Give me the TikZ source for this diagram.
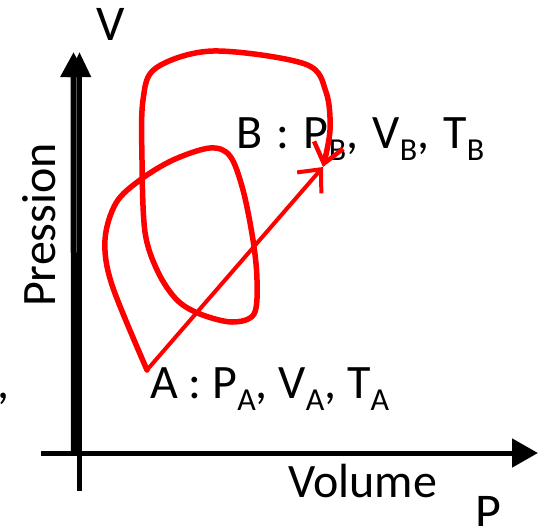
\documentclass[tikz,border=0pt]{standalone}
\usepackage{fontspec}
\setmainfont{Carlito}
\usetikzlibrary{arrows.meta}
\newcommand{\mysub}[1]{\raisebox{-0.27em}{\fontsize{32}{32}\selectfont #1}}
\newcommand{\wsp}{\hspace{0.3em}}
\begin{document}
\begin{tikzpicture}[x=1pt,y=-1pt,
  lbl/.style={inner sep=0pt,font=\fontsize{48}{52}\selectfont},
  axis/.style={black,line width=5pt,-{Triangle[length=26pt,width=28pt]}},
  redpath/.style={red,line width=5.5pt,line join=round,line cap=round},
  redarrow/.style={red,line width=4pt,-{Straight Barb[length=18pt,width=32pt,line width=4pt]}}]
\useasboundingbox (0,0) rectangle (551,525);
% axes
\coordinate (o1) at (41,453);
\coordinate (xend) at (538,453);
\coordinate (v1b) at (79.5,491);
\coordinate (v1t) at (79.5,52);
\coordinate (v2b) at (74,455);
\coordinate (v2t) at (73.5,52);
\draw[axis] (o1) -- (xend);
\draw[axis,line width=5pt,-{Triangle[length=25pt,width=22pt]}] (v1b) -- (v1t);
\draw[axis,line width=6pt,-{Triangle[length=25pt,width=25pt]}] (v2b) -- (v2t);
% labels
\node[lbl,anchor=base west,font=\fontsize{50}{52}\selectfont] (lv) at (96,40) {V};
\node[lbl,anchor=base west] (lvol) at (288,497) {Volume};
\node[lbl,anchor=base west,font=\fontsize{50}{52}\selectfont] (lp) at (475,528) {P};
\node[lbl,anchor=base,rotate=90] (lpr) at (55,225) {Pression};
\node[lbl,anchor=base west] (lcomma) at (-3,398) {,};
% states
\coordinate (ptA) at (147,370);
\coordinate (ptB) at (323,167);
\node[lbl,anchor=base west] (la) at (150,398) {A : P\mysub{A}, V\mysub{A}, T\mysub{A}};
\node[lbl,anchor=base west] (lb) at (236,148) {B\wsp:\wsp P\mysub{B},\wsp V\mysub{B},\wsp T\mysub{B}};
% red cycle path
\draw[redpath,-{Straight Barb[length=19pt,width=30pt,line width=4.5pt]}] plot[smooth,tension=0.55] coordinates {
  (ptA) (112,285) (105,240) (116,203) (140,180) (173,160) (210,148) (230,156)
  (243,190) (253,240) (257,280) (254,314) (232,322) (200,314) (177,300)
  (158,272) (145,232) (142,160) (143,100) (156,68) (213,51) (305,64) (326,92) (330,130) (ptB)};
\draw[redarrow] (ptA) -- (ptB);
\end{tikzpicture}
\end{document}
